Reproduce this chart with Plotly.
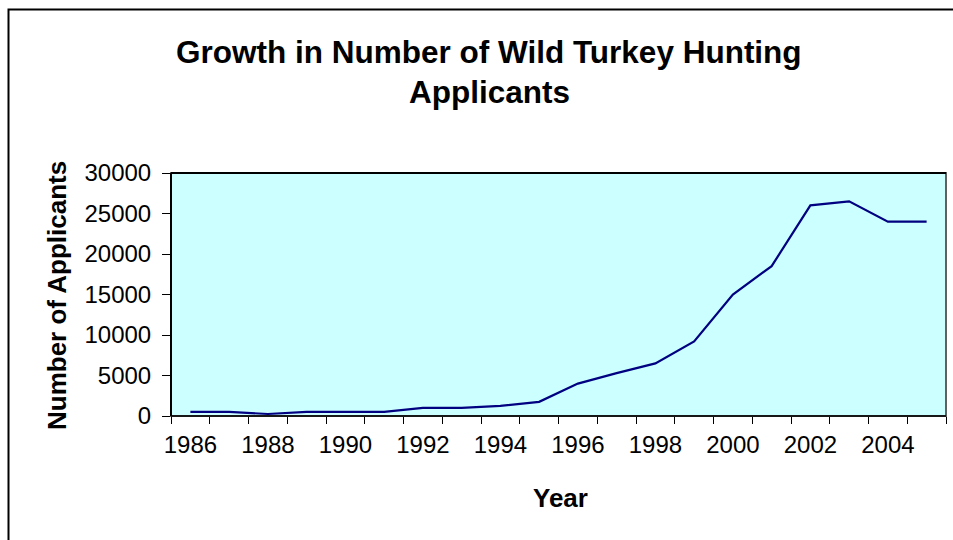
import plotly.graph_objects as go

years = list(range(1986, 2006))
applicants = [500, 500, 250, 500, 500, 500, 1000, 1000, 1250, 1750,
              4000, 5300, 6500, 9200, 15000, 18500, 26000, 26500, 24000, 24000]
y_ticks = [0, 5000, 10000, 15000, 20000, 25000, 30000]
x_label_years = list(range(1986, 2006, 2))

W, H = 953, 540
L, R, T, B = 171, 946, 173, 416
FONT = "Arial, Liberation Sans, sans-serif"

def px(x):
    return (x - L) / (R - L)

def py(y):
    return (B - y) / (B - T)

fig = go.Figure()
fig.add_trace(go.Scatter(
    x=years, y=applicants, mode="lines",
    line=dict(color="#000080", width=2.2),
    showlegend=False, hoverinfo="x+y"))

fig.update_layout(
    width=W, height=H,
    margin=dict(l=L, r=W - R, t=T, b=H - B, pad=0),
    paper_bgcolor="white",
    plot_bgcolor="#CCFFFF",
    font=dict(family=FONT, color="black", size=22),
    xaxis=dict(
        range=[1985.5, 2005.5],
        tickvals=x_label_years,
        ticktext=[str(v) for v in x_label_years],
        ticks="", showgrid=False, zeroline=False,
        showline=False,
        tickfont=dict(size=24),
        ticklabelstandoff=12,
        minor=dict(tickvals=[y - 0.5 for y in years] + [2005.5],
                   ticks="outside", ticklen=7, tickwidth=1.2, tickcolor="black",
                   showgrid=False),
    ),
    yaxis=dict(
        range=[0, 30000],
        tickvals=y_ticks,
        ticktext=[str(v) for v in y_ticks],
        ticks="outside", ticklen=8, tickwidth=1.2, tickcolor="black",
        showgrid=False, zeroline=False,
        showline=False,
        tickfont=dict(size=24),
        ticklabelstandoff=6,
    ),
)

# plot area border
fig.add_shape(type="rect", xref="paper", yref="paper", x0=0, x1=1, y0=0, y1=1,
              line=dict(color="#606060", width=2), layer="above")
# axis lines (left, bottom, top) in black
fig.add_shape(type="line", xref="paper", yref="paper", x0=0, x1=0, y0=0, y1=1,
              line=dict(color="black", width=2), layer="above")
fig.add_shape(type="line", xref="paper", yref="paper", x0=0, x1=1, y0=0, y1=0,
              line=dict(color="black", width=1.5), layer="above")
fig.add_shape(type="line", xref="paper", yref="paper", x0=0, x1=1, y0=1, y1=1,
              line=dict(color="black", width=2), layer="above")
# chart area border
fig.add_shape(type="rect", xref="paper", yref="paper",
              x0=px(8.5), x1=px(960), y0=py(9.5), y1=py(560),
              line=dict(color="black", width=2))

# title
fig.add_annotation(xref="paper", yref="paper", x=px(489), y=py(52),
                   text="<b>Growth in Number of Wild Turkey Hunting</b>",
                   showarrow=False, font=dict(size=31.5), xanchor="center", yanchor="middle")
fig.add_annotation(xref="paper", yref="paper", x=px(489), y=py(92),
                   text="<b>Applicants</b>",
                   showarrow=False, font=dict(size=31.5), xanchor="center", yanchor="middle")
# axis titles
fig.add_annotation(xref="paper", yref="paper", x=px(57), y=py(296),
                   text="<b>Number of Applicants</b>", textangle=-90,
                   showarrow=False, font=dict(size=26), xanchor="center", yanchor="middle")
fig.add_annotation(xref="paper", yref="paper", x=px(560), y=py(498),
                   text="<b>Year</b>",
                   showarrow=False, font=dict(size=26), xanchor="center", yanchor="middle")

fig.write_html("out.html",
               config={"displayModeBar": False},
               post_script="document.body.style.margin='0';document.body.style.padding='0';")
